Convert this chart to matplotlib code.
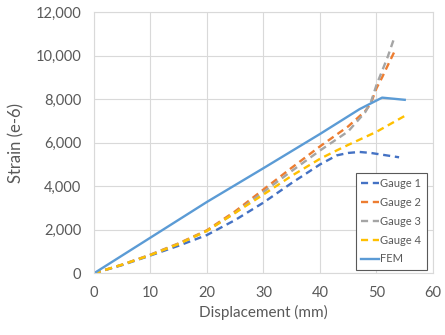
import matplotlib.pyplot as plt
from matplotlib.ticker import FuncFormatter

plt.rcParams['font.family'] = ['Lato', 'DejaVu Sans']

g1_x = [0, 5, 10, 15, 20, 25, 30, 35, 40, 43, 45, 47, 49, 51, 54]
g1_y = [0, 380, 820, 1270, 1760, 2450, 3250, 4150, 5000, 5420, 5530, 5575, 5530, 5450, 5330]

g2_x = [0, 5, 10, 15, 20, 25, 30, 35, 40, 45, 48, 49, 50, 51, 52, 53.3]
g2_y = [0, 400, 860, 1380, 1980, 2850, 3850, 4850, 5830, 6750, 7450, 7800, 8500, 9000, 9550, 10250]

g3_x = [0, 5, 10, 15, 20, 25, 30, 35, 40, 45, 48, 49, 50, 51, 52, 53.1]
g3_y = [0, 400, 850, 1360, 1950, 2780, 3740, 4700, 5640, 6520, 7400, 7850, 8650, 9300, 9950, 10780]

g4_x = [0, 5, 10, 15, 20, 25, 30, 35, 40, 43, 45, 50, 55]
g4_y = [0, 400, 840, 1350, 1950, 2780, 3620, 4480, 5260, 5650, 5900, 6500, 7230]

fem_x = [0, 10, 20, 30, 40, 47, 51, 55]
fem_y = [0, 1640, 3280, 4830, 6400, 7540, 8070, 7970]

fig = plt.figure(figsize=(4.45, 3.35), dpi=100)
ax = fig.add_axes([0.211, 0.184, 0.762, 0.780])

dash = (3, 2)
ax.plot(g1_x, g1_y, color='#4472C4', lw=1.7, dashes=dash, label='Gauge 1')
ax.plot(g2_x, g2_y, color='#ED7D31', lw=1.7, dashes=dash, label='Gauge 2')
ax.plot(g3_x, g3_y, color='#A5A5A5', lw=1.7, dashes=dash, label='Gauge 3')
ax.plot(g4_x, g4_y, color='#FFC000', lw=1.7, dashes=dash, label='Gauge 4')
ax.plot(fem_x, fem_y, color='#5B9BD5', lw=1.7, label='FEM')

ax.set_xlim(0, 60)
ax.set_ylim(0, 12000)
ax.set_xticks(range(0, 61, 10))
ax.set_yticks(range(0, 12001, 2000))
ax.yaxis.set_major_formatter(FuncFormatter(lambda v, p: f"{int(v):,}"))
ax.grid(True, color='#D9D9D9', lw=0.8)
ax.set_axisbelow(True)
for s in ax.spines.values():
    s.set_color('#D9D9D9')
    s.set_linewidth(0.8)
ax.tick_params(length=0, labelsize=10.5, colors='#595959', pad=9)

ax.set_xlabel("Displacement (mm)", fontsize=11, color='#595959', labelpad=4)
ax.set_ylabel("Strain (e-6)", fontsize=12, color='#595959', labelpad=8)

leg = ax.legend(loc='lower right', bbox_to_anchor=(0.982, 0.013), borderaxespad=0,
                fontsize=8, handlelength=1.6, handletextpad=0.1, labelspacing=0.7,
                fancybox=False, framealpha=1, edgecolor='#595959', borderpad=0.5)
leg.get_frame().set_linewidth(0.8)
for t in leg.get_texts():
    t.set_color('#595959')

fig.savefig("out.png", dpi=100)
